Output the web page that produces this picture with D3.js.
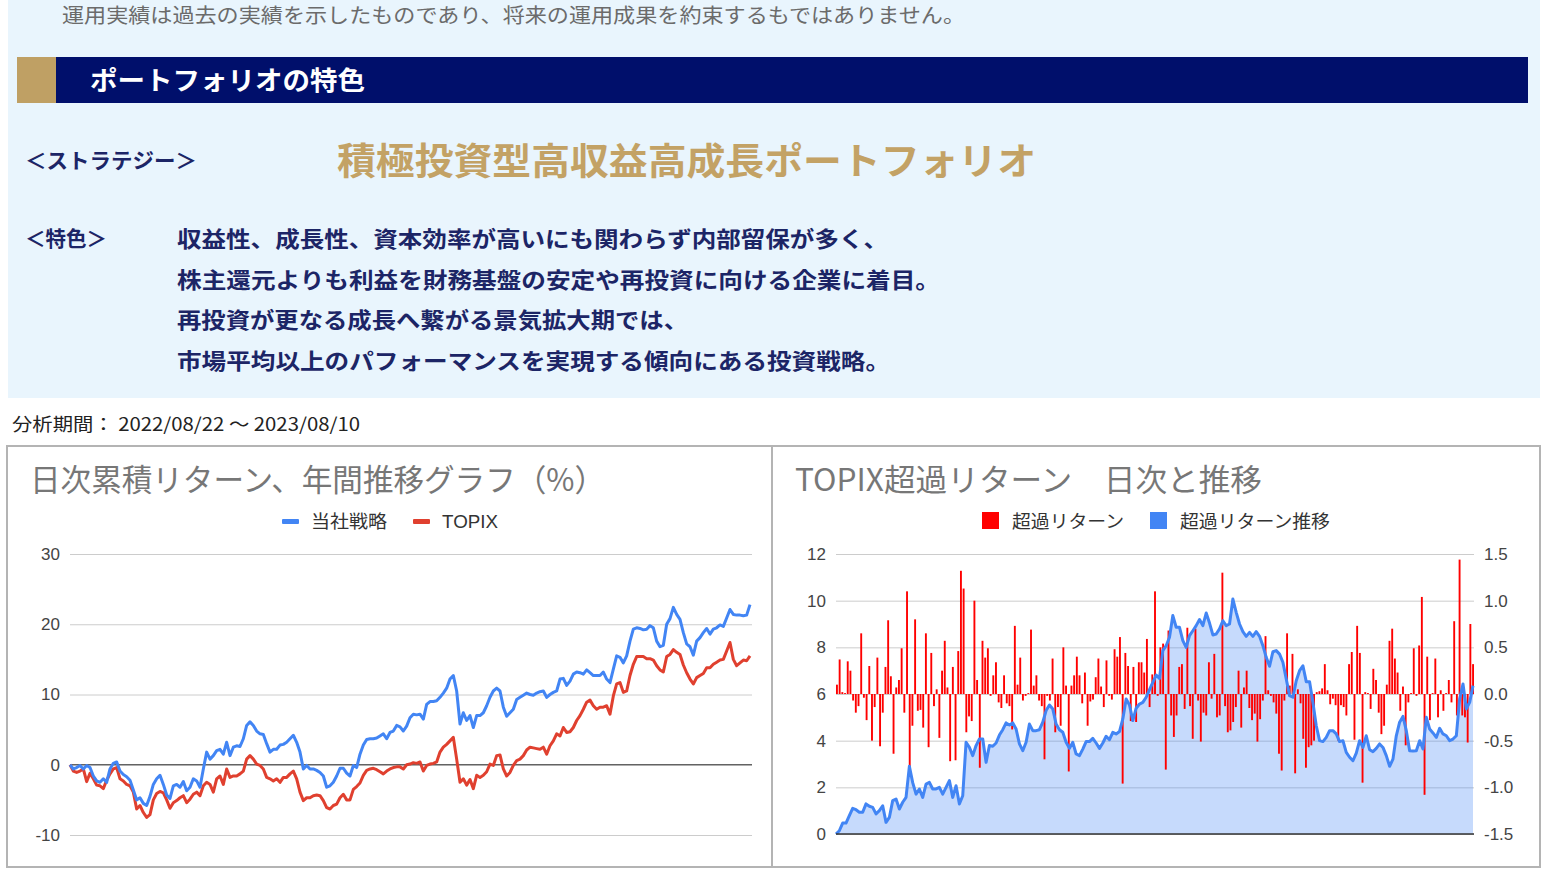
<!DOCTYPE html>
<html><head><meta charset="utf-8">
<script src="https://cdn.jsdelivr.net/npm/d3@7"></script>
<style>body{margin:0;background:#fff;overflow:hidden} svg{display:block}</style>
</head><body><svg id="c" width="1548" height="876"></svg>
<script>
// ---------- data ----------
const notice = "運用実績は過去の実績を示したものであり、将来の運用成果を約束するもではありません。";
const headerTitle = "ポートフォリオの特色";
const strategyLabel = "＜ストラテジー＞";
const strategyName = "積極投資型高収益高成長ポートフォリオ";
const featureLabel = "＜特色＞";
const featureLines = [
  "収益性、成長性、資本効率が高いにも関わらず内部留保が多く、",
  "株主還元よりも利益を財務基盤の安定や再投資に向ける企業に着目。",
  "再投資が更なる成長へ繋がる景気拡大期では、",
  "市場平均以上のパフォーマンスを実現する傾向にある投資戦略。"
];
const periodText = "分析期間： 2022/08/22 ～ 2023/08/10";
const leftTitle = "日次累積リターン、年間推移グラフ（%）";
const rightTitle = "TOPIX超過リターン　日次と推移";
const leftSeriesNames = ["当社戦略", "TOPIX"];
const rightSeriesNames = ["超過リターン", "超過リターン推移"];
const leftTicks = [30, 20, 10, 0, -10];
const rightLeftTicks = [0, 2, 4, 6, 8, 10, 12];
const rightRightTicks = [-1.5, -1.0, -0.5, 0.0, 0.5, 1.0, 1.5];

// cumulative return (%) – 当社戦略
const strategy = [
0,-0.6,-0.4,-0.1,-0.6,-0.1,-0.4,-1.6,-2.3,-2.5,
-2.0,-2.5,-0.6,0.2,0.4,-0.9,-1.4,-1.7,-2.2,-3.6,
-5.0,-4.7,-5.5,-5.8,-4.5,-2.8,-2.0,-1.5,-2.8,-4.3,
-4.8,-3.0,-2.8,-3.2,-2.4,-3.7,-3.2,-2.0,-2.3,-3.2,
-0.6,1.8,0.8,1.3,2.0,2.2,1.5,3.2,1.3,2.5,
2.7,2.6,3.7,5.6,6.1,5.6,4.8,4.4,4.3,3.0,
1.8,2.2,2.2,2.8,2.9,3.2,3.7,4.2,3.2,1.8,
-0.6,-0.1,-0.6,-0.6,-0.8,-1.1,-1.6,-3.2,-3.0,-2.5,
-1.6,-0.5,-0.5,-1.2,-1.6,-0.1,-0.4,1.5,2.8,3.6,
3.7,3.7,3.8,4.1,4.4,3.7,4.6,4.8,5.6,5.4,
4.8,5.5,6.7,7.2,7.1,7.2,6.5,8.6,9.0,9.0,
9.1,9.6,10.2,10.9,12.2,12.7,10.5,5.8,7.4,6.3,
7.0,5.3,7.0,7.0,7.4,8.4,9.6,10.5,10.9,10.5,
8.2,6.9,7.4,7.9,9.3,9.6,9.9,10.2,10.0,9.9,
10.2,10.4,10.5,9.6,10.0,10.3,10.5,12.2,12.3,11.3,
11.9,12.9,13.2,13.1,12.9,13.5,13.1,12.7,12.7,12.7,
13.2,12.2,11.7,13.6,15.5,15.3,14.5,15.5,17.6,19.3,
19.5,19.4,19.2,19.3,19.8,19.5,17.6,16.8,17.0,20.0,
20.8,22.4,21.4,20.7,18.8,17.2,16.8,15.6,17.6,18.1,
18.8,19.4,18.6,19.3,19.5,19.9,19.7,20.9,22.1,21.4,
21.3,21.3,21.2,21.3,22.8
];
// cumulative return (%) – TOPIX
const topix = [
0,-0.9,-1.1,-0.9,-0.6,-2.4,-1.2,-2.0,-2.9,-3.0,
-3.4,-2.2,-1.3,-0.6,-0.4,-2.0,-2.3,-2.8,-3.0,-3.9,
-6.3,-5.8,-6.8,-7.5,-7.1,-5.0,-4.1,-3.8,-4.0,-5.0,
-6.2,-5.4,-5.1,-4.7,-4.4,-5.4,-4.9,-4.2,-3.9,-4.4,
-3.0,-2.5,-2.8,-3.9,-2.0,-1.6,-2.8,-0.6,-1.8,-1.6,
-1.6,-1.3,-0.9,0.8,1.3,0.8,0.1,-0.1,-0.6,-1.8,
-2.0,-2.3,-2.0,-2.5,-1.8,-1.8,-1.3,-0.9,-2.0,-3.9,
-5.1,-4.7,-4.7,-4.4,-4.3,-4.4,-5.1,-6.1,-6.3,-5.8,
-5.6,-4.7,-4.2,-5.0,-5.0,-3.5,-3.1,-2.6,-1.5,-0.8,
-0.6,-0.5,-0.7,-1.0,-1.3,-0.9,-0.6,-0.4,-0.3,-0.3,
-0.6,0.0,0.1,0.3,0.2,0.4,-0.9,-0.1,0.1,0.2,
0.4,1.8,2.5,2.9,3.4,3.9,0.8,-2.5,-2.0,-2.9,
-2.1,-3.4,-1.5,-1.8,-1.5,-1.0,0.1,-0.1,1.3,1.4,
-0.6,-1.6,-1.1,-0.1,0.6,0.8,1.3,2.1,2.5,2.4,
2.3,2.2,2.5,1.5,2.7,3.4,4.4,4.1,5.3,4.6,
4.7,5.3,6.3,7.0,7.9,8.9,9.2,8.4,7.9,8.2,
8.2,8.4,7.2,9.8,11.5,11.7,10.3,10.5,12.7,14.3,
15.4,15.4,15.4,15.1,15.1,14.9,14.1,13.5,13.2,15.4,
15.7,16.4,16.0,15.7,14.2,13.1,12.2,11.5,12.4,12.7,
13.0,13.8,13.8,14.3,14.6,14.9,15.0,16.2,17.4,15.0,
14.1,14.5,14.9,14.8,15.5
];
// daily excess return vs TOPIX (%) – right axis
const excessDaily = [
0.10,0.37,0.02,0.01,0.35,0.25,-0.07,-0.20,-0.13,0.65,
-0.04,-0.28,0.30,-0.50,-0.14,0.39,-0.56,-0.20,0.29,0.79,
0.19,-0.64,0.07,0.15,0.49,-0.20,1.10,-0.82,-0.34,0.80,
-0.18,-0.17,-0.36,0.65,-0.57,0.44,-0.13,0.05,-0.47,0.25,
0.57,0.07,-0.72,0.29,-0.71,0.46,1.32,1.13,-0.41,-0.24,
-0.29,1.00,0.15,-0.79,
0.57,0.39,0.49,-0.02,0.20,0.34,-0.09,-0.15,0.20,-0.10,
-0.13,-0.38,0.73,0.10,0.39,-0.07,-0.02,0.01,0.69,0.09,
0.20,-0.07,-0.13,-0.70,-0.02,-0.07,0.38,-0.41,-0.14,-0.34,
0.50,0.09,-0.83,0.09,0.20,0.40,0.20,-0.10,0.23,-0.34,
-0.08,-0.06,0.18,0.38,0.08,-0.14,0.36,-0.02,-0.06,0.48,
0.40,0.61,-0.96,0.44,0.30,-0.29,0.29,-0.30,0.34,
0.34,0.23,0.59,-0.14,0.21,1.10,-0.02,0.50,0.54,-0.81,
0.68,-0.23,-0.46,-0.23,0.29,0.32,-0.16,0.71,-0.13,-0.48,
0.70,-0.07,-0.51,-0.20,-0.23,0.34,-0.05,0.43,-0.25,-0.23,
1.30,-0.13,-0.41,-0.39,-0.30,-0.14,0.25,-0.36,0.07,0.25,
-0.15,-0.28,-0.21,-0.51,-0.27,-0.07,0.62,0.04,-0.02,-0.09,
-0.21,-0.64,-0.82,-0.07,0.65,0.09,0.43,-0.85,0.05,-0.10,
-0.48,-0.79,-0.57,-0.55,-0.50,0.02,0.03,0.06,0.32,0.04,
-0.11,-0.05,-0.12,-0.50,-0.12,-0.14,-0.23,0.32,0.45,-0.49,
0.73,0.44,-0.95,0.02,0.01,-0.16,0.27,0.15,-0.20,-0.43,
-0.34,0.10,0.57,0.70,0.38,0.23,-0.18,0.08,-0.55,-0.09,
0.01,0.49,-0.02,0.52,1.04,-1.08,0.40,-0.28,0.01,0.38,
-0.25,0.04,-0.18,0.01,0.15,-0.09,0.78,-0.23,1.44,-0.23,
-0.25,-0.52,0.75,0.32
];
// cumulative excess return (%) – left axis
const excessCum = [
0.0,0.14,0.47,0.47,0.79,1.10,1.04,0.93,0.93,1.29,
1.19,1.14,0.86,1.0,1.21,0.5,0.71,1.43,1.5,1.07,
1.36,1.57,2.9,2.2,1.71,1.93,1.57,2.14,2.21,1.93,
1.93,2.0,1.71,2.0,2.29,1.57,2.07,1.29,1.64,3.93,
3.71,3.36,3.79,4.07,4.07,3.07,3.79,
3.76,3.9,4.24,4.47,4.76,4.67,4.76,4.5,3.86,3.57,
3.93,4.71,4.43,4.43,4.47,4.79,5.29,5.53,5.36,4.71,
4.47,4.36,3.93,3.67,3.93,3.43,3.36,3.64,3.96,3.96,
4.1,3.9,3.67,3.9,4.19,4.04,4.36,4.29,4.39,4.93,
5.79,5.53,4.86,5.39,5.57,5.64,5.86,6.19,
6.5,6.81,6.67,7.86,8.07,8.43,9.36,8.86,8.86,8.29,
8.0,8.5,8.71,8.93,9.19,8.93,9.47,9.04,8.53,8.57,
8.79,9.14,8.93,9.0,10.07,9.5,9.0,8.67,8.47,8.64,
8.47,8.67,8.47,8.07,7.57,7.19,7.81,7.86,7.71,7.36,
6.64,5.93,5.86,6.57,7.0,7.21,6.53,6.53,
5.64,4.64,4.0,3.96,4.14,4.43,4.43,4.29,3.96,4.0,
3.5,3.29,3.14,3.47,4.0,3.71,4.21,3.61,3.53,3.67,
3.86,3.71,3.36,2.9,3.21,4.21,4.79,5.04,4.43,3.57,
3.56,3.57,4.0,3.64,5.0,4.5,4.33,4.14,4.53,4.29,
4.21,4.0,4.07,4.21,5.79,6.43,5.36,5.64,6.36
];

// ---------- drawing ----------
const JP = "'Noto Sans CJK JP','Noto Sans',sans-serif";
const NUM = "'Liberation Sans',Arial,sans-serif";
const svg = d3.select('#c');

function text(x, y, s, o) {
  const t = svg.append('text').attr('x', x).attr('y', y).text(s)
    .attr('font-family', o.family || JP).attr('font-size', o.size)
    .attr('fill', o.fill || '#222').attr('font-weight', o.weight || 'normal');
  if (o.len) t.attr('textLength', o.len).attr('lengthAdjust', 'spacingAndGlyphs');
  return t;
}

// top panel
svg.append('rect').attr('x', 8).attr('y', 0).attr('width', 1532).attr('height', 398).attr('fill', '#e9f5fd');
text(62, 23, notice, {size: 20, fill: '#6b6b6b', len: 903});
svg.append('rect').attr('x', 17).attr('y', 57).attr('width', 39).attr('height', 46).attr('fill', '#bfa064');
svg.append('rect').attr('x', 56).attr('y', 57).attr('width', 1472).attr('height', 46).attr('fill', '#000f6b');
text(90, 90, headerTitle, {size: 26, fill: '#fff', weight: 'bold', len: 275});
text(25, 168, strategyLabel, {size: 21, fill: '#1c2566', weight: 'bold', len: 172});
text(337, 175, strategyName, {size: 37, fill: '#c3a265', weight: 'bold', len: 699});
text(25, 246, featureLabel, {size: 21, fill: '#1c2566', weight: 'bold', len: 82});
const lineLens = [711, 763, 511, 713];
const lineY = [247, 288, 328, 369];
featureLines.forEach((s, i) => text(177, lineY[i], s, {size: 22, fill: '#1c2566', weight: 'bold', len: lineLens[i]}));
text(12, 431, periodText, {size: 18, fill: '#222', len: 348});

// chart frames
svg.append('rect').attr('x', 7).attr('y', 446).attr('width', 765).attr('height', 421)
  .attr('fill', '#fff').attr('stroke', '#b4b4b4').attr('stroke-width', 2);
svg.append('rect').attr('x', 772).attr('y', 446).attr('width', 768).attr('height', 421)
  .attr('fill', '#fff').attr('stroke', '#b4b4b4').attr('stroke-width', 2);

function styleAxis(g) {
  g.select('.domain').remove();
  g.selectAll('.tick line').attr('stroke', '#cccccc').attr('stroke-width', 1);
  g.selectAll('.tick text').attr('font-family', NUM).attr('font-size', 17).attr('fill', '#444');
}

// ---- left chart ----
text(30, 491, leftTitle, {size: 31, fill: '#777', len: 575});
const xL = d3.scaleLinear().domain([0, strategy.length - 1]).range([70, 750]);
const yL = d3.scaleLinear().domain([-10, 30]).range([835, 554]);
svg.append('g').attr('transform', 'translate(70,0)')
  .call(d3.axisLeft(yL).tickValues(leftTicks).tickSize(-682).tickPadding(10).tickFormat(d => String(d)))
  .call(styleAxis);
svg.append('line').attr('x1', 70).attr('x2', 752).attr('y1', yL(0)).attr('y2', yL(0))
  .attr('stroke', '#333').attr('stroke-width', 1.2);
const lineL = d3.line().x((d, i) => xL(i)).y(d => yL(d));
svg.append('path').datum(topix).attr('d', lineL).attr('fill', 'none')
  .attr('stroke', '#e0402f').attr('stroke-width', 3).attr('stroke-linejoin', 'round');
svg.append('path').datum(strategy).attr('d', lineL).attr('fill', 'none')
  .attr('stroke', '#4285f4').attr('stroke-width', 3).attr('stroke-linejoin', 'round');
// legend
const legL = [{x: 282, c: '#4285f4', w: 76}, {x: 413, c: '#e0402f', w: 56}];
legL.forEach((l, i) => {
  svg.append('rect').attr('x', l.x).attr('y', 519).attr('width', 17).attr('height', 5).attr('fill', l.c).attr('rx', 1);
  text(l.x + 29, 528, leftSeriesNames[i], {size: 18, fill: '#333', len: l.w, family: i === 1 ? NUM : JP});
});

// ---- right chart ----
text(795, 491, rightTitle, {size: 31, fill: '#777', len: 467});
const yR1 = d3.scaleLinear().domain([0, 12]).range([834, 554]);
const yR2 = d3.scaleLinear().domain([-1.5, 1.5]).range([834, 554]);
const xBand = d3.scaleBand().domain(d3.range(excessDaily.length)).range([836, 1474]).paddingInner(0.3);
const xCum = d3.scaleLinear().domain([0, excessCum.length - 1]).range([836, 1473]);
svg.append('g').attr('transform', 'translate(836,0)')
  .call(d3.axisLeft(yR1).tickValues(rightLeftTicks).tickSize(-638).tickPadding(10).tickFormat(d => String(d)))
  .call(styleAxis);
svg.append('g').attr('transform', 'translate(1474,0)')
  .call(d3.axisRight(yR2).tickValues(rightRightTicks).tickSize(0).tickPadding(10).tickFormat(d => d.toFixed(1)))
  .call(styleAxis);
// area (translucent so gridlines show through)
svg.append('path').datum(excessCum)
  .attr('d', d3.area().x((d, i) => xCum(i)).y0(yR1(0)).y1(d => yR1(d)))
  .attr('fill', '#4285f4').attr('fill-opacity', 0.3);
// bars
svg.append('g').selectAll('rect').data(excessDaily).join('rect')
  .attr('x', (d, i) => xBand(i)).attr('width', xBand.bandwidth())
  .attr('y', d => Math.min(yR2(d), yR2(0)))
  .attr('height', d => Math.abs(yR2(d) - yR2(0)))
  .attr('fill', '#ff0000');
svg.append('path').datum(excessCum)
  .attr('d', d3.line().x((d, i) => xCum(i)).y(d => yR1(d)))
  .attr('fill', 'none').attr('stroke', '#4285f4').attr('stroke-width', 3).attr('stroke-linejoin', 'round');
svg.append('line').attr('x1', 836).attr('x2', 1474).attr('y1', yR1(0)).attr('y2', yR1(0))
  .attr('stroke', '#333').attr('stroke-width', 1.5);
// legend
const legR = [{x: 982, c: '#ff0000', w: 112}, {x: 1150, c: '#4285f4', w: 150}];
legR.forEach((l, i) => {
  svg.append('rect').attr('x', l.x).attr('y', 512).attr('width', 17).attr('height', 17).attr('fill', l.c);
  text(l.x + 30, 528, rightSeriesNames[i], {size: 18, fill: '#333', len: l.w});
});
</script>
</body></html>
